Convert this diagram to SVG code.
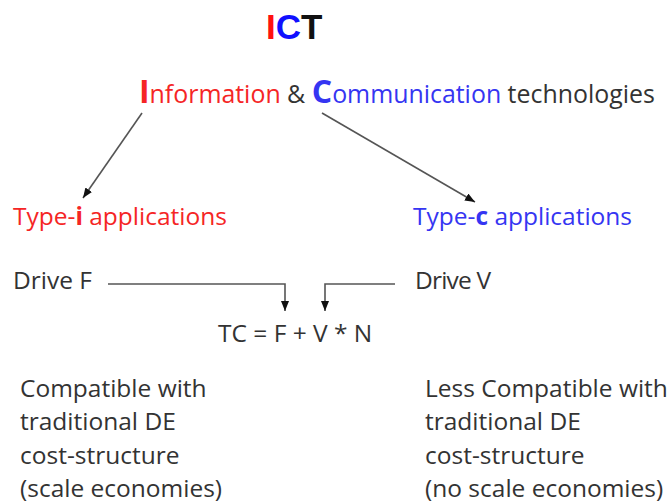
<svg xmlns="http://www.w3.org/2000/svg" width="670" height="504" viewBox="0 0 670 504">
<defs>
<marker id="ah" viewBox="0 0 10 8" refX="10" refY="4" markerWidth="10" markerHeight="8" markerUnits="userSpaceOnUse" orient="auto">
<path d="M0,0 L10,4 L0,8 Z" fill="#111"/>
</marker>
<style>
text{font-family:"Open Sans","Noto Sans","Liberation Sans",sans-serif;font-size:24.5px;fill:#333;}
.red{fill:#f52525;}
.blue{fill:#3535f2;}
.b{font-weight:bold;}
.conn{fill:none;stroke:#555;stroke-width:1.6;}
</style>
</defs>
<rect width="670" height="504" fill="#fff"/>
<g id="title">
<text x="266" y="39" style="font-family:'Liberation Sans',Arial,sans-serif;font-size:35px;font-weight:bold;"><tspan style="fill:#ff1010">I</tspan><tspan style="fill:#1010ff">C</tspan><tspan style="fill:#111">T</tspan></text>
</g>
<g id="ict">
<text x="139" y="103" style="font-size:24.9px"><tspan class="red b" style="font-size:32px">I</tspan><tspan class="red">nformation</tspan> &amp; <tspan class="blue b" style="font-size:32px">C</tspan><tspan class="blue">ommunication</tspan> technologies</text>
</g>
<g id="type-i">
<text x="13" y="225" class="red">Type-<tspan class="b">i</tspan> applications</text>
</g>
<g id="type-c">
<text x="413" y="225" class="blue">Type-<tspan class="b">c</tspan> applications</text>
</g>
<g id="drive-f">
<text x="13" y="289">Drive F</text>
</g>
<g id="drive-v">
<text x="415" y="289" textLength="76">Drive V</text>
</g>
<g id="formula">
<text x="218" y="342">TC = F + V * N</text>
</g>
<g id="left-note">
<text x="20" y="397">Compatible with</text>
<text x="20" y="430">traditional DE</text>
<text x="20" y="464">cost-structure</text>
<text x="20" y="497">(scale economies)</text>
</g>
<g id="right-note">
<text x="425" y="397">Less Compatible with</text>
<text x="425" y="430">traditional DE</text>
<text x="425" y="464">cost-structure</text>
<text x="425" y="497">(no scale economies)</text>
</g>
<g id="connectors">
<line class="conn" x1="142" y1="113" x2="83" y2="198" marker-end="url(#ah)"/>
<line class="conn" x1="322" y1="113" x2="475" y2="202" marker-end="url(#ah)"/>
<path class="conn" d="M108,284 H285 V311" marker-end="url(#ah)"/>
<path class="conn" d="M395,284 H325 V311" marker-end="url(#ah)"/>
</g>
</svg>
